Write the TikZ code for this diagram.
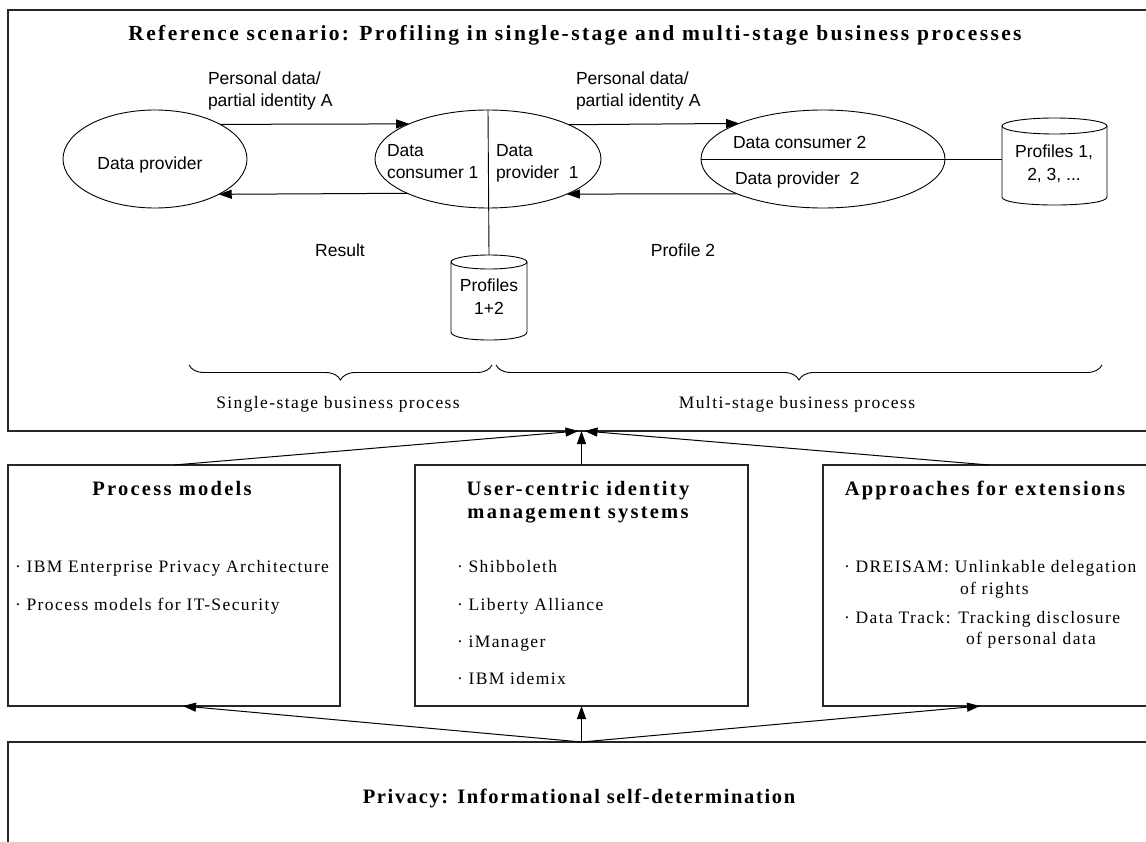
\documentclass[tikz,border=0pt]{standalone}
\usepackage{fontspec}
\setmainfont{Liberation Serif}
\newfontfamily\arialfont{Liberation Sans}
\newfontfamily\spacedserif[LetterSpace=8]{Liberation Serif}
\newfontfamily\widehead[LetterSpace=11]{Liberation Serif}
\usetikzlibrary{arrows.meta,decorations.pathreplacing,calc,shapes.geometric}

\newcommand\sanstext{\arialfont\fontsize{17.5}{21}\selectfont}
\newcommand\itemtext{\spacedserif\fontsize{17.5}{21}\selectfont}
\newcommand\headtext{\widehead\bfseries\fontsize{20.5}{23}\selectfont}
\newcommand\basetext{\spacedserif\bfseries\fontsize{20.5}{23}\selectfont}
\newcommand\titletext{\widehead\bfseries\fontsize{21.5}{24}\selectfont}

\tikzset{
  every node/.style={inner sep=0pt, outer sep=0pt},
  frame/.style={draw=black!85, line width=1.1pt, rectangle},
  ell/.style={ellipse, draw=black, line width=0.9pt},
  arr/.style={draw=black, line width=1pt, -{Triangle[length=13pt,width=9pt]}},
  plain/.style={draw=black, line width=0.9pt},
  cylline/.style={draw=black, line width=0.9pt},
  brc/.style={draw=black, line width=0.9pt, decorate,
              decoration={brace, mirror, amplitude=15pt}},
  sans/.style={font=\sanstext},
  item/.style={font=\itemtext},
  head/.style={font=\headtext},
}

\begin{document}
\begin{tikzpicture}[x=1pt, y=-1pt]
\useasboundingbox (0,0) rectangle (1146,842);
\clip (0,0) rectangle (1146,842);
\fill[white] (0,0) rectangle (1146,842);

% ---------- upper frame: reference scenario ----------
\node[frame, anchor=north west, minimum width=1147pt, minimum height=421pt] (scen) at (8,10) {};
\node[font=\titletext, anchor=base] (title) at (575,41)
  {Reference scenario: Profiling in single-stage and multi-stage business processes};

% parties
\node[ell, minimum width=184pt, minimum height=98pt] (e1) at (155,159) {};
\node[ell, minimum width=226pt, minimum height=98pt] (e2) at (488,159) {};
\node[ell, minimum width=244pt, minimum height=98pt] (e3) at (823,159) {};

\node[sans, anchor=base] (t1) at (150,170) {Data provider};
\node[sans, anchor=base west] (t2a) at (387,157) {Data};
\node[sans, anchor=base west] (t2b) at (387,179) {consumer 1};
\node[sans, anchor=base west] (t2c) at (496,157) {Data};
\node[sans, anchor=base west] (t2d) at (496,179) {provider\ \ 1};
\node[sans, anchor=base west] (t3a) at (733,149) {Data consumer 2};
\node[sans, anchor=base west] (t3b) at (735,185) {Data provider\ \ 2};

% profile stores
\draw[cylline] (489,262) ellipse [x radius=38pt, y radius=7pt];
\draw[cylline] (451,262) -- (451,332) .. controls (451,342.7) and (527,342.7) .. (527,332) -- (527,262);
\node[minimum width=76pt, minimum height=85pt] (cyl2) at (489,297.5) {};
\node[sans, anchor=base] (c2a) at (489,292) {Profiles};
\node[sans, anchor=base] (c2b) at (489,315) {1+2};

\draw[cylline] (1054.5,126) ellipse [x radius=52.5pt, y radius=8pt];
\draw[cylline] (1002,126) -- (1002,197) .. controls (1002,207.7) and (1107,207.7) .. (1107,197) -- (1107,126);
\node[minimum width=105pt, minimum height=87pt] (cyl3) at (1054.5,161.5) {};
\node[sans, anchor=base] (c3a) at (1054,158) {Profiles 1,};
\node[sans, anchor=base] (c3b) at (1054,181) {2, 3, ...};

% dividers and links to the stores
\draw[plain] (e2.north) -- (cyl2.north);
\draw[plain] (e3.west) -- (e3.west -| cyl3.west);

% data flows
\draw[arr] (e1.28.53) -- (e2.156.13);
\draw[arr] (e2.23.87) -- (e3.157.71);
\draw[arr] (e3.202.29) -- (e2.336.13);
\draw[arr] (e2.203.87) -- (e1.331.47);

\node[sans, anchor=base west] (l1a) at (208,85) {Personal data/};
\node[sans, anchor=base west] (l1b) at (208,107) {partial identity A};
\node[sans, anchor=base west] (l2a) at (576,85) {Personal data/};
\node[sans, anchor=base west] (l2b) at (576,107) {partial identity A};
\node[sans, anchor=base] (res) at (340,257) {Result};
\node[sans, anchor=base] (prof) at (683,257) {Profile 2};

% process spans
\coordinate (b1s) at (189,365);
\coordinate (b1e) at (492,365);
\coordinate (b2s) at (496,365);
\coordinate (b2e) at (1102,365);
\draw[brc] (b1s) -- (b1e);
\draw[brc] (b2s) -- (b2e);
\node[item, anchor=base] (sp1) at (338,408) {Single-stage business process};
\node[item, anchor=base] (sp2) at (797,408) {Multi-stage business process};

% ---------- middle row ----------
\node[frame, anchor=north west, minimum width=332pt, minimum height=241pt] (boxA) at (8,465) {};
\node[frame, anchor=north west, minimum width=333pt, minimum height=241pt] (boxB) at (415,465) {};
\node[frame, anchor=north west, minimum width=332pt, minimum height=241pt] (boxC) at (823,465) {};

\node[head, anchor=base] (hA) at (172,495) {Process models};
\node[head, anchor=base] (hB1) at (578,495) {User-centric identity};
\node[head, anchor=base] (hB2) at (578,518) {management systems};
\node[head, anchor=base] (hC) at (985,495) {Approaches for extensions};

\node[item, anchor=base west] (a1) at (15,572) {· IBM Enterprise Privacy Architecture};
\node[item, anchor=base west] (a2) at (15,610) {· Process models for IT-Security};

\node[item, anchor=base west] (b1) at (457,572) {· Shibboleth};
\node[item, anchor=base west] (b2) at (457,610) {· Liberty Alliance};
\node[item, anchor=base west] (b3) at (457,647) {· iManager};
\node[item, anchor=base west] (b4) at (457,684) {· IBM idemix};

\node[item, anchor=base west] (c1) at (844,572) {· DREISAM: Unlinkable delegation};
\node[item, anchor=base west] (c1b) at (960,594) {of rights};
\node[item, anchor=base west] (c2) at (844,623) {· Data Track: Tracking disclosure};
\node[item, anchor=base west] (c2b) at (966,644) {of personal data};

% ---------- lower frame ----------
\node[frame, anchor=north west, minimum width=1147pt, minimum height=150pt] (priv) at (8,742) {};
\node[font=\basetext, anchor=base] (hP) at (579,803) {Privacy: Informational self-determination};

% influences
\draw[arr] (boxA.north) -- ($(scen.south)+(-3,0)$);
\draw[arr] (boxB.north) -- (scen.south);
\draw[arr] (boxC.north) -- ($(scen.south)+(3,0)$);
\draw[arr] (priv.north) -- ($(boxA.south)+(9,0)$);
\draw[arr] (priv.north) -- (boxB.south);
\draw[arr] (priv.north) -- ($(boxC.south)+(-9,0)$);
\end{tikzpicture}
\end{document}
